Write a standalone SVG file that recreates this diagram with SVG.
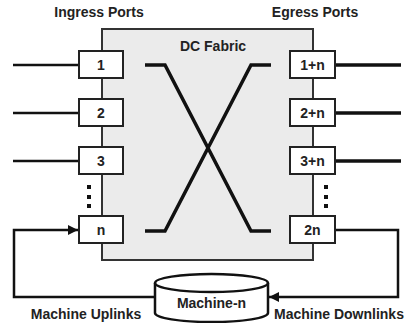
<svg xmlns="http://www.w3.org/2000/svg" width="408" height="323" viewBox="0 0 408 323">
<defs>
<style>
text{font-family:"Liberation Sans",Arial,sans-serif;font-weight:bold;fill:#222;}
.lbl{font-size:14px;}
.port{font-size:14px;text-anchor:middle;}
.box{fill:#fff;stroke:#222;stroke-width:2;}
.wire{fill:none;stroke:#111;stroke-width:2.5;}
.thick{fill:none;stroke:#111;stroke-width:3.5;}
</style>
<marker id="ah" viewBox="0 0 10 10" refX="10" refY="5" markerWidth="4" markerHeight="4" orient="auto" markerUnits="strokeWidth">
<path d="M0,0 L10,5 L0,10 z" fill="#111"/>
</marker>
</defs>
<rect width="408" height="323" fill="#fff"/>
<g id="fabric">
<rect x="102" y="29" width="211" height="231" fill="#ebebeb" stroke="#333" stroke-width="2"/>
<text class="lbl" x="213" y="51" text-anchor="middle">DC Fabric</text>
</g>
<g id="connectors">
<line class="wire" x1="13" y1="65" x2="79" y2="65"/>
<line class="wire" x1="13" y1="113" x2="79" y2="113"/>
<line class="wire" x1="13" y1="161" x2="79" y2="161"/>
<line class="thick" x1="335" y1="65" x2="401" y2="65"/>
<line class="thick" x1="335" y1="113" x2="401" y2="113"/>
<line class="thick" x1="335" y1="161" x2="401" y2="161"/>
<polyline class="thick" points="145,65 165,65 251,231 271,231"/>
<polyline class="thick" points="145,231 165,231 251,65 271,65"/>
<polyline class="wire" points="155,297 14,297 14,230 78,230" marker-end="url(#ah)"/>
<polyline class="wire" points="335,230 398,230 398,297 269,297" marker-end="url(#ah)"/>
<g fill="#111">
<rect x="87" y="185" width="4" height="4"/>
<rect x="87" y="195" width="4" height="4"/>
<rect x="87" y="204" width="4" height="4"/>
<rect x="324" y="185" width="4" height="4"/>
<rect x="324" y="195" width="4" height="4"/>
<rect x="324" y="204" width="4" height="4"/>
</g>
</g>
<g id="in1"><rect class="box" x="79" y="51" width="44" height="27"/><text class="port" x="101" y="70">1</text></g>
<g id="in2"><rect class="box" x="79" y="99" width="44" height="27"/><text class="port" x="101" y="118">2</text></g>
<g id="in3"><rect class="box" x="79" y="147" width="44" height="27"/><text class="port" x="101" y="166">3</text></g>
<g id="inn"><rect class="box" x="79" y="216" width="44" height="27"/><text class="port" x="101" y="235">n</text></g>
<g id="out1"><rect class="box" x="290" y="51" width="45" height="27"/><text class="port" x="312.5" y="70">1+n</text></g>
<g id="out2"><rect class="box" x="290" y="99" width="45" height="27"/><text class="port" x="312.5" y="118">2+n</text></g>
<g id="out3"><rect class="box" x="290" y="147" width="45" height="27"/><text class="port" x="312.5" y="166">3+n</text></g>
<g id="outn"><rect class="box" x="290" y="216" width="45" height="27"/><text class="port" x="312.5" y="235">2n</text></g>
<g id="machine">
<path d="M155,283 L155,313 A56.5,9 0 0 0 268,313 L268,283" fill="#fff" stroke="#111" stroke-width="2.5"/>
<ellipse cx="211.5" cy="283" rx="56.5" ry="9" fill="#fff" stroke="#111" stroke-width="2.5"/>
<text class="lbl" x="211.5" y="308" text-anchor="middle">Machine-n</text>
</g>
<g id="labels">
<text class="lbl" x="99" y="17" text-anchor="middle">Ingress Ports</text>
<text class="lbl" x="315" y="17" text-anchor="middle">Egress Ports</text>
<text class="lbl" x="86" y="319" text-anchor="middle">Machine Uplinks</text>
<text class="lbl" x="339" y="319" text-anchor="middle">Machine Downlinks</text>
</g>
</svg>
